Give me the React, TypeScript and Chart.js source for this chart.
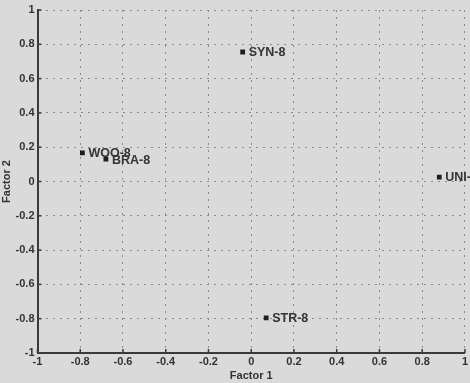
import React, { useEffect, useRef } from "react";
import { Chart, registerables } from "chart.js";

Chart.register(...registerables);

// Factor loadings of each sample
const sampleNames = ["SYN-8", "WOO-8", "BRA-8", "STR-8", "UNI-8"];
const factor1 = [-0.04, -0.79, -0.68, 0.07, 0.88];
const factor2 = [0.755, 0.167, 0.13, -0.795, 0.026];

const axisMin = -1;
const axisMax = 1;
const axisStep = 0.2;

const BG = "#dadada";
const INK = "#333333";
const FONT = "'Liberation Sans', Arial, sans-serif";

const fmt = (v: number) => {
  const r = Math.round(v * 10) / 10;
  return (r === 0 ? 0 : r).toString();
};

// Paints the page-coloured background behind everything
const backgroundPlugin = {
  id: "bg",
  beforeDraw(chart: Chart) {
    const { ctx, width, height } = chart;
    ctx.save();
    ctx.fillStyle = BG;
    ctx.fillRect(0, 0, width, height);
    ctx.restore();
  },
};

// Short tick marks that point into the plot, plus the sample name beside each marker
const overlayPlugin = {
  id: "overlay",
  afterDraw(chart: Chart) {
    const { ctx, chartArea } = chart;
    const xs = chart.scales.x;
    const ys = chart.scales.y;
    ctx.save();
    ctx.strokeStyle = "#3a3a3a";
    ctx.lineWidth = 1.5;
    xs.ticks.forEach((t) => {
      const px = xs.getPixelForValue(t.value);
      ctx.beginPath();
      ctx.moveTo(px, chartArea.bottom);
      ctx.lineTo(px, chartArea.bottom - 4);
      ctx.stroke();
    });
    ys.ticks.forEach((t) => {
      const py = ys.getPixelForValue(t.value);
      ctx.beginPath();
      ctx.moveTo(chartArea.left, py);
      ctx.lineTo(chartArea.left + 4, py);
      ctx.stroke();
    });

    const meta = chart.getDatasetMeta(0);
    ctx.fillStyle = INK;
    ctx.font = `bold 12.5px ${FONT}`;
    ctx.textAlign = "left";
    ctx.textBaseline = "middle";
    meta.data.forEach((pt, i) => {
      ctx.fillText(sampleNames[i], pt.x + 6, pt.y + 1);
    });
    ctx.restore();
  },
};

export default function App() {
  const canvasRef = useRef<HTMLCanvasElement | null>(null);

  useEffect(() => {
    if (!canvasRef.current) return;
    const chart = new Chart(canvasRef.current, {
      type: "scatter",
      data: {
        datasets: [
          {
            data: factor1.map((x, i) => ({ x, y: factor2[i] })),
            pointStyle: "rect",
            pointRadius: 3.4,
            backgroundColor: "#1e1e1e",
            borderColor: "#1e1e1e",
            borderWidth: 0,
          },
        ],
      },
      options: {
        animation: false,
        responsive: false,
        events: [],
        layout: { padding: { top: 10, right: 3, left: 0, bottom: 0 } },
        plugins: {
          legend: { display: false },
          tooltip: { enabled: false },
        },
        scales: {
          x: {
            type: "linear",
            min: axisMin,
            max: axisMax,
            afterFit: (scale: any) => {
              scale.height = 30;
            },
            ticks: {
              stepSize: axisStep,
              color: INK,
              font: { family: FONT, size: 11, weight: "bold" },
              padding: 2,
              maxRotation: 0,
              autoSkip: false,
              callback: (v: any) => fmt(Number(v)),
            },
            grid: {
              color: "#8a8a8a",
              lineWidth: 1,
              drawTicks: false,
            },
            border: { display: true, color: "#3a3a3a", width: 2, dash: [2, 5] },
            title: {
              display: true,
              text: "Factor 1",
              color: INK,
              font: { family: FONT, size: 11, weight: "bold" },
              padding: { top: 0, bottom: 0 },
            },
          },
          y: {
            type: "linear",
            min: axisMin,
            max: axisMax,
            afterFit: (scale: any) => {
              scale.width = 37.5;
            },
            ticks: {
              stepSize: axisStep,
              color: INK,
              font: { family: FONT, size: 11, weight: "bold" },
              padding: 3,
              autoSkip: false,
              callback: (v: any) => fmt(Number(v)),
            },
            grid: {
              color: "#8a8a8a",
              lineWidth: 1,
              drawTicks: false,
            },
            border: { display: true, color: "#3a3a3a", width: 2, dash: [2, 5] },
            title: {
              display: true,
              text: "Factor 2",
              color: INK,
              font: { family: FONT, size: 11, weight: "bold" },
              padding: { top: 0, bottom: 0 },
            },
          },
        },
      },
      plugins: [backgroundPlugin, overlayPlugin],
    });
    return () => chart.destroy();
  }, []);

  return (
    <div
      style={{
        position: "fixed",
        left: 0,
        top: 0,
        width: 470,
        height: 383,
        background: BG,
      }}
    >
      <canvas ref={canvasRef} width={470} height={383} />
    </div>
  );
}
